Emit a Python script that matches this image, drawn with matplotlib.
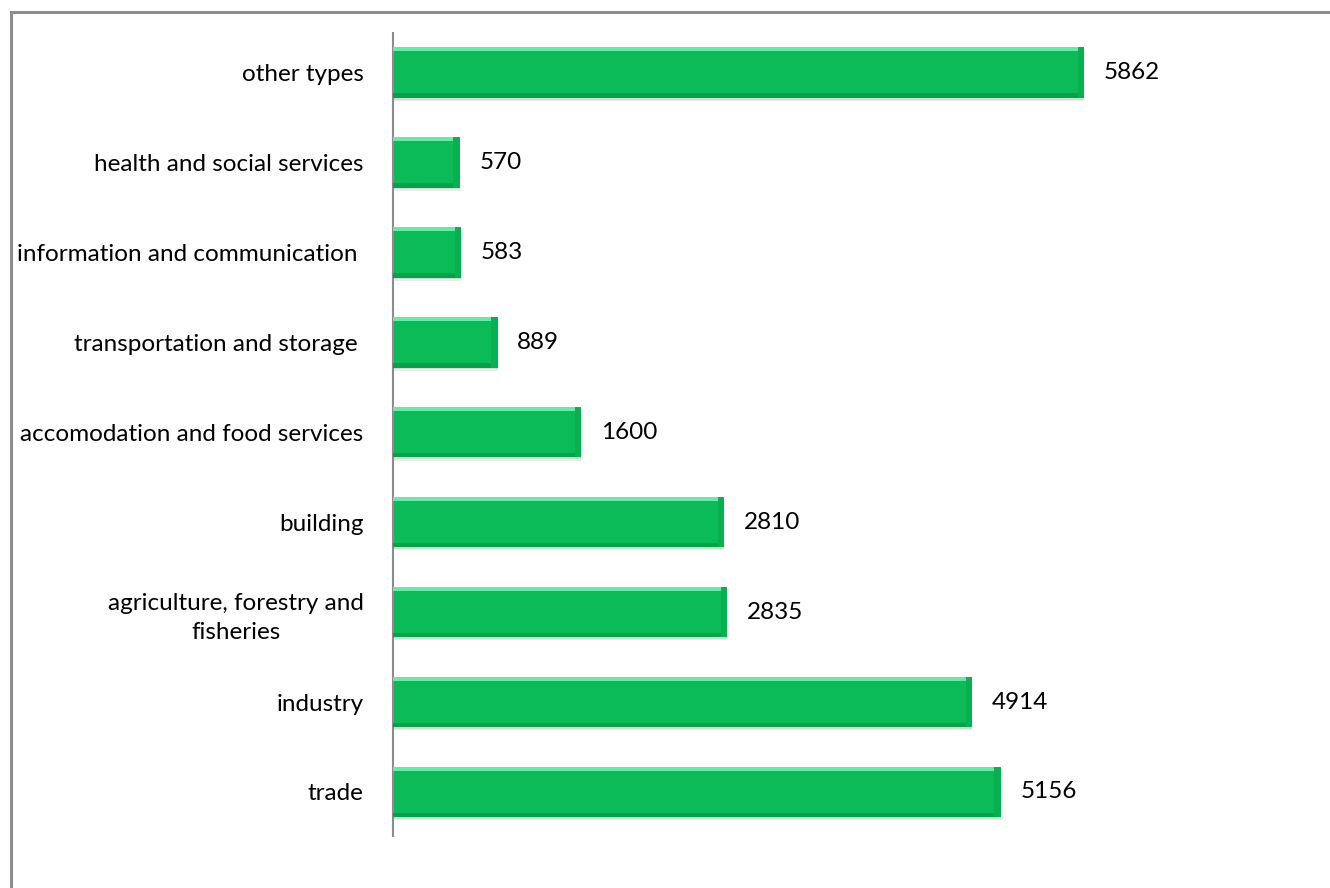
import matplotlib
matplotlib.use("Agg")
import matplotlib.pyplot as plt
from matplotlib.patches import Rectangle
import numpy as np

categories = ["trade", "industry", "agriculture, forestry and\nfisheries", "building",
              "accomodation and food services", "transportation and storage ",
              "information and communication ", "health and social services", "other types"]
values = [5156, 4914, 2835, 2810, 1600, 889, 583, 570, 5862]

plt.rcParams['font.family'] = ['Lato', 'DejaVu Sans']

W, H = 1330, 888
fig = plt.figure(figsize=(W / 100, H / 100), dpi=100)
ax = fig.add_axes([392.7 / W, 1 - 836 / H, 825.5 / W, (836 - 33) / H])

# figure border (top and left visible)
fig.patches.append(Rectangle((11 / W, -0.2), 1.5, 1.2 - 12 / H, transform=fig.transFigure,
                             fill=False, edgecolor='#8c8c8c', linewidth=2.2, clip_on=False))

y = np.arange(len(categories))
h = 0.56
# soft shadow
ax.barh(y - 0.035, values, height=h, left=0, color='#000000', alpha=0.08, zorder=1, linewidth=0)
ax.barh(y - 0.02, values, height=h, left=0, color='#000000', alpha=0.08, zorder=1, linewidth=0)
# main bar
ax.barh(y, values, height=h, color='#0bbb57', zorder=2, linewidth=0)
# bottom darker bevel
ax.barh(y - h / 2 + 0.025, values, height=0.05, color='#0a9f4b', zorder=3, linewidth=0)
# top highlight bevel
ax.barh(y + h / 2 - 0.022, values, height=0.044, color='#5ef0a2', zorder=3, linewidth=0)
# right edge bevel
ax.barh(y, [55] * len(values), left=np.array(values) - 55, height=h, color='#0cae52', zorder=3, linewidth=0)

for yi, v in zip(y, values):
    ax.annotate(f"{v}", xy=(v, yi), xytext=(14, 0), textcoords='offset points',
                ha='left', va='center', fontsize=17.5, color='#000000')

ax.set_xlim(0, 7000)
ax.set_ylim(-0.49, 8.44)
ax.set_yticks(y)
ax.set_yticklabels(categories, fontsize=17.5)
for lab in ax.get_yticklabels():
    lab.set_multialignment('center')
    lab.set_linespacing(1.45)
ax.tick_params(axis='y', length=0, pad=21)
ax.set_xticks([])
for s in ['top', 'right', 'bottom']:
    ax.spines[s].set_visible(False)
ax.spines['left'].set_color('#8c8c8c')
ax.spines['left'].set_linewidth(1.5)

fig.savefig("out.png", dpi=100)
